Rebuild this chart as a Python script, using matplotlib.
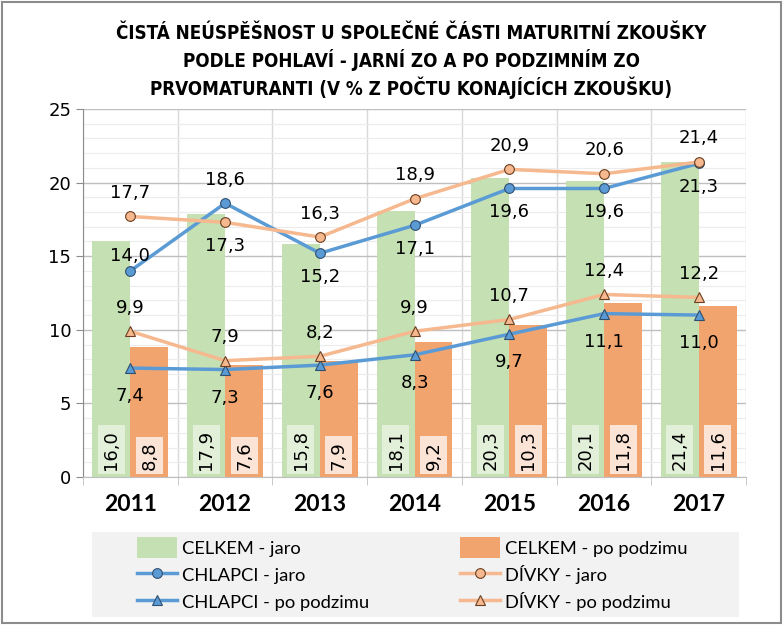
import numpy as np
import matplotlib.pyplot as plt
from matplotlib.patches import Rectangle
from matplotlib.ticker import MultipleLocator

plt.rcParams['font.family'] = ['Lato', 'DejaVu Sans']

roky = ['2011', '2012', '2013', '2014', '2015', '2016', '2017']
celkem_jaro = [16.0, 17.9, 15.8, 18.1, 20.3, 20.1, 21.4]
celkem_podzim = [8.8, 7.6, 7.9, 9.2, 10.3, 11.8, 11.6]
chlapci_jaro = [14.0, 18.6, 15.2, 17.1, 19.6, 19.6, 21.3]
divky_jaro = [17.7, 17.3, 16.3, 18.9, 20.9, 20.6, 21.4]
chlapci_podzim = [7.4, 7.3, 7.6, 8.3, 9.7, 11.1, 11.0]
divky_podzim = [9.9, 7.9, 8.2, 9.9, 10.7, 12.4, 12.2]

# kde je popisek bodu: 1 = nad, -1 = pod
chlapci_jaro_pos = [1, 1, -1, -1, -1, -1, -1]
divky_jaro_pos = [1, -1, 1, 1, 1, 1, 1]

zelena = '#c5e0b3'
oranzova = '#f2a46f'
modra = '#5b9bd5'
svetle_oranzova = '#f6b88e'


def fmt(v):
    return f'{v:.1f}'.replace('.', ',')


fig = plt.figure(figsize=(7.83, 6.25), dpi=100)
ax = fig.add_axes([0.106, 0.2368, 0.847, 0.5888])

x = np.arange(len(roky))
w = 0.4

b1 = ax.bar(x - w / 2, celkem_jaro, w, color=zelena, zorder=2)
b2 = ax.bar(x + w / 2, celkem_podzim, w, color=oranzova, zorder=2)

# popisky sloupcu (svisle, ve svetlem ramecku u spodu)
for xi, v in zip(x, celkem_jaro):
    ax.text(xi - w / 2, 0.5, fmt(v), rotation=90, ha='center', va='bottom', fontsize=13,
            family='DejaVu Sans', zorder=5,
            bbox=dict(boxstyle='square,pad=0.25', fc='#e2efd9', ec='none'))
for xi, v in zip(x, celkem_podzim):
    ax.text(xi + w / 2, 0.5, fmt(v), rotation=90, ha='center', va='bottom', fontsize=13,
            family='DejaVu Sans', zorder=5,
            bbox=dict(boxstyle='square,pad=0.25', fc='#fbe3d5', ec='none'))

l1, = ax.plot(x, chlapci_jaro, color=modra, lw=2.5, marker='o', ms=7, mfc=modra,
              mec='#2f4f6f', mew=0.8, zorder=4)
l2, = ax.plot(x, divky_jaro, color=svetle_oranzova, lw=2.5, marker='o', ms=7,
              mfc=svetle_oranzova, mec='#6b3f20', mew=0.8, zorder=4)
l3, = ax.plot(x, chlapci_podzim, color=modra, lw=2.5, marker='^', ms=7, mfc=modra,
              mec='#2f4f6f', mew=0.8, zorder=4)
l4, = ax.plot(x, divky_podzim, color=svetle_oranzova, lw=2.5, marker='^', ms=7,
              mfc=svetle_oranzova, mec='#6b3f20', mew=0.8, zorder=4)

off = 1.6
for i, (xi, v, p) in enumerate(zip(x, chlapci_jaro, chlapci_jaro_pos)):
    o = 1.0 if i == 0 else off
    ax.text(xi, v + p * o, fmt(v), ha='center', va='center', fontsize=13,
            family='DejaVu Sans', zorder=6)
for xi, v, p in zip(x, divky_jaro, divky_jaro_pos):
    ax.text(xi, v + p * off, fmt(v), ha='center', va='center', fontsize=13,
            family='DejaVu Sans', zorder=6)
for xi, v in zip(x, chlapci_podzim):
    ax.text(xi, v - off - 0.3, fmt(v), ha='center', va='center', fontsize=13,
            family='DejaVu Sans', zorder=6)
for xi, v in zip(x, divky_podzim):
    ax.text(xi, v + off, fmt(v), ha='center', va='center', fontsize=13,
            family='DejaVu Sans', zorder=6)

ax.set_xlim(-0.5, len(roky) - 0.5)
ax.set_ylim(0, 25)
ax.yaxis.set_major_locator(MultipleLocator(5))
ax.yaxis.set_minor_locator(MultipleLocator(1))
ax.set_xticks(x)
ax.set_xticklabels(roky, fontsize=16.5, fontweight='bold')
ax.set_xticks(np.arange(len(roky) + 1) - 0.5, minor=True)
ax.tick_params(axis='x', which='major', length=0, pad=12)
ax.tick_params(axis='x', which='minor', length=6, color='#bfbfbf')
ax.tick_params(axis='y', which='major', labelsize=13, length=5, color='#8c8c8c')
ax.tick_params(axis='y', which='minor', length=0)
for lab in ax.get_yticklabels():
    lab.set_family('DejaVu Sans')

ax.grid(axis='y', which='major', color='#bfbfbf', lw=1, zorder=0)
ax.grid(axis='y', which='minor', color='#ececec', lw=0.8, zorder=0)
ax.grid(axis='x', which='minor', color='#d9d9d9', lw=1, zorder=0)
ax.set_axisbelow(True)
for s in ['top', 'right']:
    ax.spines[s].set_visible(False)
ax.spines['left'].set_color('#8c8c8c')
ax.spines['bottom'].set_color('#bfbfbf')

fig.text(0.525, 0.901,
         'ČISTÁ NEÚSPĚŠNOST U SPOLEČNÉ ČÁSTI MATURITNÍ ZKOUŠKY\n'
         'PODLE POHLAVÍ - JARNÍ ZO A PO PODZIMNÍM ZO\n'
         'PRVOMATURANTI (V % Z POČTU KONAJÍCÍCH ZKOUŠKU)',
         ha='center', va='center', fontsize=13.5, fontweight='bold', linespacing=1.31,
         family='DejaVu Sans', fontstretch='condensed')

# sede pozadi legendy
fig.patches.append(Rectangle((92 / 783, 8 / 625), 647 / 783, 85 / 625,
                             transform=fig.transFigure, fc='#f2f2f2', ec='none', zorder=0))

leg = fig.legend([b1, l1, l3, b2, l2, l4],
                 ['CELKEM - jaro', 'CHLAPCI - jaro', 'CHLAPCI - po podzimu',
                  'CELKEM - po podzimu', 'DÍVKY - jaro', 'DÍVKY - po podzimu'],
                 ncol=2, loc='upper left', bbox_to_anchor=(137 / 783, 0.1405),
                 fontsize=13.2, frameon=False, handlelength=2.18, handleheight=1.35,
                 handletextpad=0.27, labelspacing=0.37, columnspacing=4.96,
                 borderpad=0, borderaxespad=0)

fig.patches.append(Rectangle((0.002, 0.003), 0.995, 0.994, transform=fig.transFigure,
                             fill=False, ec='#8c8c8c', lw=1.5))

fig.savefig('out.png', dpi=100)
